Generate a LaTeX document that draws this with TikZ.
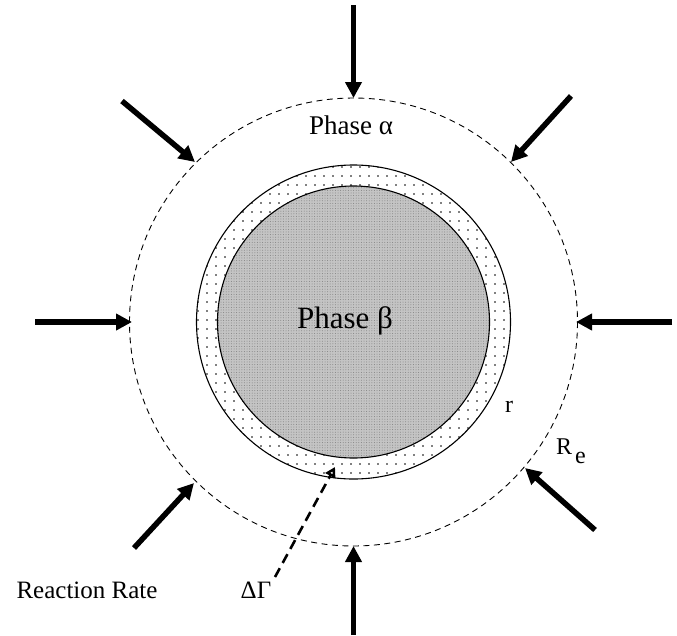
\documentclass[tikz,border=0pt]{standalone}
\usepackage{fontspec}
\setmainfont{Liberation Serif}
\usetikzlibrary{arrows.meta,patterns.meta}
\definecolor{phgray}{RGB}{196,196,196}

\begin{document}
\begin{tikzpicture}[x=1pt,y=-1pt,
    flux/.style={line width=5.5pt,-{Triangle[length=16pt,width=16pt]}},
    shell/.style={draw=black,line width=1.1pt},
    lbl/.style={inner sep=0pt,font=\fontsize{24}{27}\selectfont}]
  \useasboundingbox (0,0) rectangle (677,635);
  \coordinate (c) at (353.5,322);
  % phases
  \path[shell,pattern={Dots[distance=9pt,radius=0.8pt]},pattern color=black]
    (c) circle[radius=157];
  \fill[phgray] (c) circle[radius=136];
  \path[pattern={Dots[distance=2.6pt,radius=0.5pt]},pattern color=black!50]
    (c) circle[radius=136];
  \draw[shell] (c) circle[radius=136];
  % equivalent radius
  \draw[dash pattern=on 6pt off 4.5pt,line width=0.9pt] (c) circle[radius=224];
  % reaction flux
  \coordinate (tN) at (353.5,5);     \coordinate (hN) at (353.5,98);
  \coordinate (tS) at (353.5,635);   \coordinate (hS) at (353.5,546);
  \coordinate (tW) at (35,322);      \coordinate (hW) at (132,322);
  \coordinate (tE) at (672,322);     \coordinate (hE) at (576,322);
  \coordinate (tNW) at (122,101);    \coordinate (hNW) at (195,162);
  \coordinate (tNE) at (571,96);     \coordinate (hNE) at (511,162);
  \coordinate (tSW) at (134,548);    \coordinate (hSW) at (194,483);
  \coordinate (tSE) at (595,530);    \coordinate (hSE) at (525,468);
  \draw[flux] (tN) -- (hN);
  \draw[flux] (tS) -- (hS);
  \draw[flux] (tW) -- (hW);
  \draw[flux] (tE) -- (hE);
  \draw[flux] (tNW) -- (hNW);
  \draw[flux] (tNE) -- (hNE);
  \draw[flux] (tSW) -- (hSW);
  \draw[flux] (tSE) -- (hSE);
  % interface thickness
  \coordinate (dg0) at (275,577);
  \coordinate (dg1) at (335,467);
  \draw[line width=2.6pt,dash pattern=on 10pt off 6pt,
        -{Triangle[length=10pt,width=11pt,open,fill=white]}] (dg0) -- (dg1);
  % labels
  \node[lbl,font=\fontsize{27}{30}\selectfont] (alpha) at (351,125) {Phase α};
  \node[lbl,font=\fontsize{31}{34}\selectfont] (beta) at (345,321) {Phase β};
  \node[lbl] (rr) at (509,407) {r};
  \node[lbl,anchor=west] (re) at (556,451) {R\hspace{3pt}\raisebox{-9pt}{e}};
  \node[lbl,font=\fontsize{25}{28}\selectfont] (rate) at (87,590) {Reaction Rate};
  \node[lbl,font=\fontsize{25}{28}\selectfont] (dgam) at (256,590) {ΔΓ};
\end{tikzpicture}
\end{document}
